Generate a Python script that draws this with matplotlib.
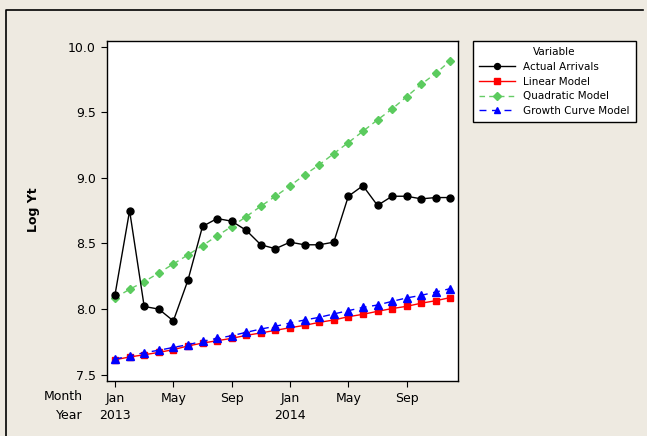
import numpy as np
import matplotlib.pyplot as plt
from matplotlib.transforms import blended_transform_factory
from matplotlib.lines import Line2D

# monthly index, Jan 2013 .. Dec 2014
idx = np.arange(24)
tick_pos = [0, 4, 8, 12, 16, 20]
tick_lbl = ['Jan', 'May', 'Sep', 'Jan', 'May', 'Sep']
year_pos = [0, 12]
year_lbl = ['2013', '2014']

actual = [8.11, 8.75, 8.02, 8.00, 7.91, 8.22, 8.63, 8.69, 8.67, 8.60, 8.49, 8.46,
          8.51, 8.49, 8.49, 8.51, 8.86, 8.94, 8.79, 8.86, 8.86, 8.84, 8.85, 8.85]
linear = [7.614, 7.635, 7.652, 7.670, 7.691, 7.719, 7.741, 7.759, 7.777, 7.800, 7.818, 7.838,
          7.858, 7.876, 7.899, 7.917, 7.942, 7.960, 7.983, 8.004, 8.021, 8.045, 8.064, 8.088]
quadratic = [8.085, 8.151, 8.209, 8.275, 8.344, 8.413, 8.484, 8.558, 8.629, 8.705, 8.784, 8.860,
             8.939, 9.023, 9.099, 9.185, 9.269, 9.355, 9.442, 9.525, 9.619, 9.713, 9.797, 9.893]
growth = [7.619, 7.642, 7.668, 7.686, 7.708, 7.729, 7.754, 7.777, 7.797, 7.823, 7.848, 7.869,
          7.894, 7.917, 7.937, 7.963, 7.988, 8.013, 8.031, 8.059, 8.085, 8.105, 8.130, 8.156]

bg = '#EEEAE1'
fig = plt.figure(figsize=(6.47, 4.36), dpi=100, facecolor=bg)
W, H = 647, 436
ax = fig.add_axes([107 / W, 1 - 381 / H, (458 - 107) / W, (381 - 41) / H])

# outer frame: only left and top edges show in the reference
fig.lines.append(Line2D([6 / W, 6 / W, 643 / W], [0, 1 - 10 / H, 1 - 10 / H],
                        transform=fig.transFigure, color='black', linewidth=1.2))

ax.plot(idx, actual, color='black', lw=1, marker='o', ms=5, label='Actual Arrivals', zorder=5)
ax.plot(idx, linear, color='#FF0000', lw=1, marker='s', ms=4.5, label='Linear Model', zorder=3)
ax.plot(idx, quadratic, color='#66CC66', lw=1, ls=(0, (4, 3)), marker='D', ms=4.5,
        markerfacecolor='#5BCB5E', markeredgecolor='#5BCB5E', label='Quadratic Model', zorder=3)
ax.plot(idx, growth, color='#0000FF', lw=1, ls=(0, (5, 4)), marker='^', ms=5.5,
        label='Growth Curve Model', zorder=4)

ax.set_xlim(-0.55, 23.52)
ax.set_ylim(7.452, 10.043)
ax.set_yticks([7.5, 8.0, 8.5, 9.0, 9.5, 10.0])
ax.set_yticklabels(['7.5', '8.0', '8.5', '9.0', '9.5', '10.0'])
ax.set_xticks(tick_pos)
ax.set_xticklabels(tick_lbl)
ax.tick_params(labelsize=9, length=4, width=0.8, direction='out', pad=4)
for s in ax.spines.values():
    s.set_linewidth(1)

trans = blended_transform_factory(ax.transData, fig.transFigure)
for p, l in zip(year_pos, year_lbl):
    ax.text(p, 1 - 415 / H, l, transform=trans, ha='center', va='center', fontsize=9)
fig.text(83 / W, 1 - 396 / H, 'Month', ha='right', va='center', fontsize=9)
fig.text(83 / W, 1 - 415 / H, 'Year', ha='right', va='center', fontsize=9)
fig.text(33 / W, 1 - 210 / H, 'Log Yt', rotation=90, ha='center', va='center',
         fontsize=9, fontweight='bold')

leg = ax.legend(loc='upper left', bbox_to_anchor=(473 / W, 1 - 41 / H), bbox_transform=fig.transFigure,
                title='Variable', fontsize=7.5, title_fontsize=7.5, frameon=True, fancybox=False,
                edgecolor='black', framealpha=1, handlelength=3.4, borderpad=0.6,
                labelspacing=0.45, borderaxespad=0, markerscale=0.85)
leg.get_frame().set_linewidth(1)
leg.get_frame().set_facecolor('white')

fig.savefig('out.png', dpi=100, facecolor=bg)
